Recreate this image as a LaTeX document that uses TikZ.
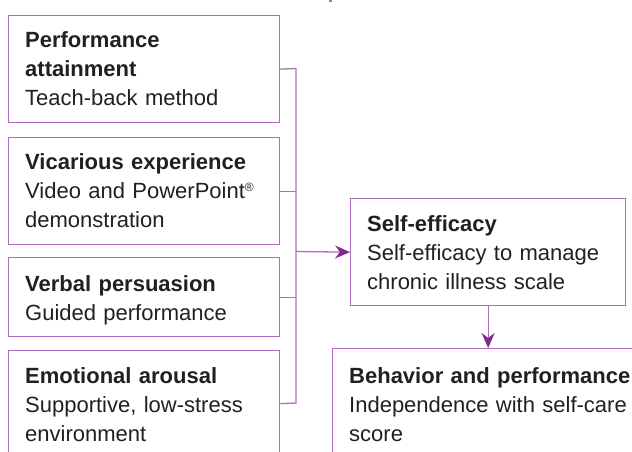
\documentclass[tikz,border=0pt]{standalone}
\usepackage{fontspec}
\setmainfont{Liberation Sans}
\usetikzlibrary{arrows.meta}
\definecolor{boxline}{RGB}{176,108,190}
\definecolor{arrowdark}{RGB}{132,40,146}
\definecolor{txt}{RGB}{35,31,32}
\tikzset{
  box/.style={draw=boxline, line width=1.3pt, rectangle, inner sep=0pt},
  label/.style={anchor=base west, inner sep=0pt, text width=320pt, align=left,
    text=txt, font=\fontsize{22}{29}\selectfont},
  conn/.style={draw=boxline, line width=1.3pt},
  arr/.style={conn, -{Stealth[length=15pt,width=13pt,inset=5pt,color=arrowdark]}}
}
\begin{document}
\begin{tikzpicture}[x=1pt,y=-1pt]
\useasboundingbox (0,0) rectangle (632,451);
\clip (0,0) rectangle (632,451);
% boxes
\node[box, minimum width=271pt, minimum height=107pt, anchor=north west] (b1) at (8,15) {};
\node[box, minimum width=271pt, minimum height=107pt, anchor=north west] (b2) at (8,137) {};
\node[box, minimum width=271pt, minimum height=79pt, anchor=north west] (b3) at (8,257) {};
\node[box, minimum width=271pt, minimum height=106pt, anchor=north west] (b4) at (8,350) {};
\node[box, minimum width=275pt, minimum height=107pt, anchor=north west] (se) at (350,198) {};
\node[box, minimum width=311pt, minimum height=108pt, anchor=north west] (bp) at (332,348) {};
% texts
\node[label] (t1) at (25,47) {\textbf{Performance}\\\textbf{attainment}\\Teach-back method};
\node[label] (t2) at (25,169) {\textbf{Vicarious experience}\\Video and PowerPoint\raisebox{0.55ex}{\fontsize{12}{12}\selectfont ®}\\demonstration};
\node[label] (t3) at (25,291) {\textbf{Verbal persuasion}\\Guided performance};
\node[label] (t4) at (25,383) {\textbf{Emotional arousal}\\Supportive, low-stress\\environment};
\node[label] (t5) at (367,231) {\textbf{Self-efficacy}\\Self-efficacy to manage\\chronic illness scale};
\node[label] (t6) at (349,383) {\textbf{Behavior and performance}\\Independence with self-care\\score};
% connectors
\coordinate (jtop) at (296,68.5);
\coordinate (jbot) at (296,403);
\coordinate (jmid) at (296,251.5);
\draw[conn] (b1.east) -- (jtop) -- (jbot) -- (b4.east);
\draw[conn] (b2.east) -- (b2.east -| jtop);
\draw[conn] (b3.east) -- (b3.east -| jtop);
\draw[arr] (jmid) -- (se.west);
\draw[arr] (se.south) -- (bp.north);
% small stub at top
\fill[boxline] (328.5,0) rectangle (331.5,1.5);
\end{tikzpicture}
\end{document}
